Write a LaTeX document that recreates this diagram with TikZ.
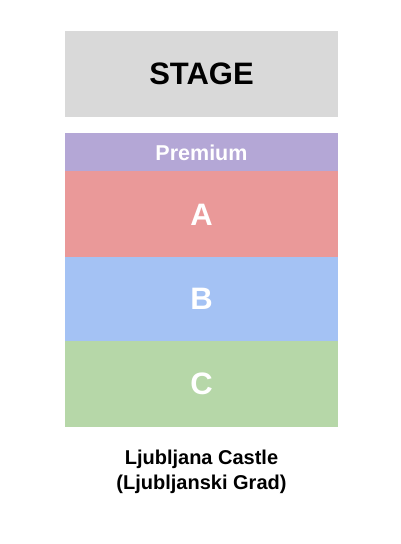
\documentclass[tikz,border=0pt]{standalone}
\usepackage{fontspec}
\setmainfont{Liberation Sans}
\usepackage{tikz}
\usetikzlibrary{positioning}
\definecolor{stagegray}{HTML}{D9D9D9}
\definecolor{premcol}{HTML}{B4A7D6}
\definecolor{acol}{HTML}{EA9999}
\definecolor{bcol}{HTML}{A4C2F4}
\definecolor{ccol}{HTML}{B6D7A8}
\tikzset{
  section/.style={rectangle, inner sep=0pt, outer sep=0pt, line width=0.6pt, minimum width=272.4pt, text=white, font=\bfseries\fontsize{31}{34}\selectfont},
}

\begin{document}
\begin{tikzpicture}[x=1pt, y=-1pt]
			\useasboundingbox (0,0) rectangle (401,544);
			\node[section, fill=stagegray, draw=stagegray, text=black, minimum height=85.4pt] (stage) at (201.5,74) {STAGE};
			\node[section, fill=premcol, draw=premcol, minimum height=38.4pt, font=\bfseries\fontsize{21.5}{24}\selectfont] (premium) at (201.5,152.5) {Premium};
			\node[section, fill=acol, draw=acol, minimum height=85.4pt, below=0pt of premium] (secA) {A};
			\node[section, fill=bcol, draw=bcol, minimum height=84.4pt, below=0pt of secA] (secB) {B};
			\node[section, fill=ccol, draw=ccol, minimum height=84.4pt, below=0pt of secB] (secC) {C};
			\node[align=center, font=\bfseries\fontsize{20}{25.5}\selectfont] (venue) at (201.5,472) {Ljubljana Castle\\(Ljubljanski Grad)};
\end{tikzpicture}
\end{document}
